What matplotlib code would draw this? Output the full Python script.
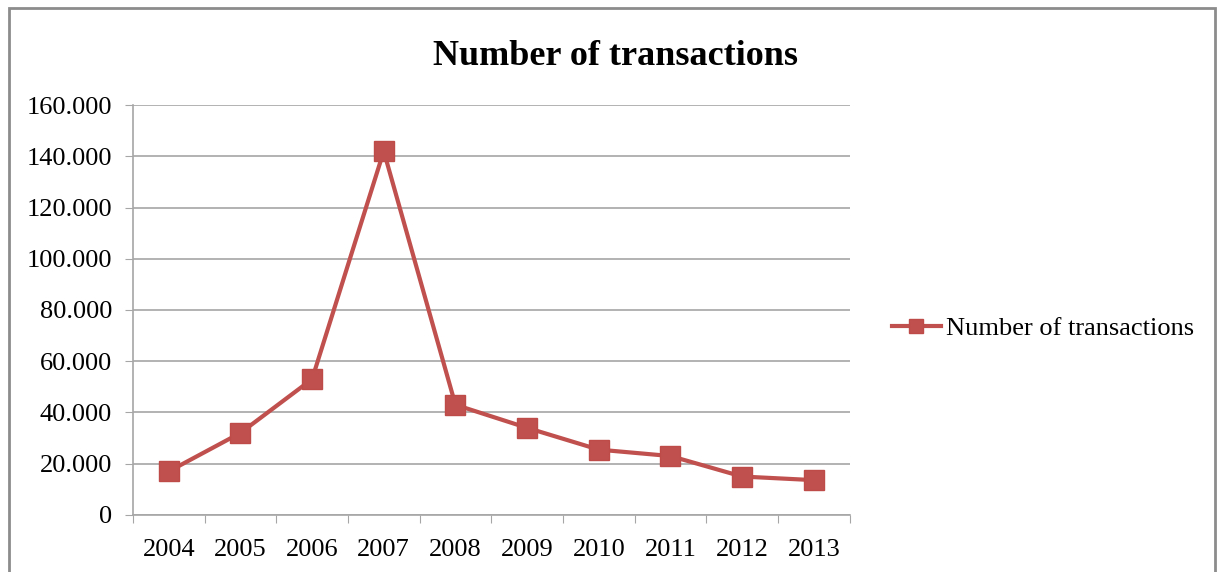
import matplotlib.pyplot as plt
from matplotlib.patches import Rectangle
from matplotlib.ticker import FuncFormatter, FixedLocator
import numpy as np

years = ['2004', '2005', '2006', '2007', '2008', '2009', '2010', '2011', '2012', '2013']
transactions = [17000, 32000, 53000, 142000, 43000, 34000, 25500, 23000, 15000, 13600]

plt.rcParams['font.family'] = ['Liberation Serif', 'DejaVu Serif']

fig = plt.figure(figsize=(12.19, 5.72), dpi=100)
ax = fig.add_axes([0.109, 0.0997, 0.588, 0.7167])

x = np.arange(len(years))
ax.plot(x, transactions, color='#C0504D', lw=3, marker='s', markersize=14,
        markeredgecolor='#BE4B48', label='Number of transactions')

ax.set_xlim(-0.5, len(years) - 0.5)
ax.set_ylim(0, 160000)
ax.set_yticks(np.arange(0, 160001, 20000))
ax.yaxis.set_major_formatter(FuncFormatter(lambda v, p: '0' if v == 0 else f'{int(v):,}'.replace(',', '.')))
ax.grid(axis='y', color='#A6A6A6', lw=1.2)
ax.set_axisbelow(True)

ax.xaxis.set_major_locator(FixedLocator(np.arange(-0.5, len(years), 1)))
ax.xaxis.set_minor_locator(FixedLocator(x))
ax.set_xticklabels([''] * (len(years) + 1))
ax.set_xticklabels(years, minor=True)
ax.tick_params(axis='x', which='major', length=6, color='#A6A6A6', direction='out')
ax.tick_params(axis='x', which='minor', length=0, pad=17, labelsize=19)
ax.tick_params(axis='y', length=6, color='#A6A6A6', labelsize=19, pad=9)

for s in ['top', 'right']:
    ax.spines[s].set_visible(False)
for s in ['left', 'bottom']:
    ax.spines[s].set_color('#A6A6A6')
    ax.spines[s].set_linewidth(1.2)

fig.text(0.505, 0.902, 'Number of transactions', ha='center', va='center',
         fontsize=26, fontweight='bold')

leg = ax.legend(loc='center left', bbox_to_anchor=(1.026, 0.455), frameon=False,
                fontsize=19, handlelength=1.85, handletextpad=0.2, markerscale=0.75)

fig.patches.append(Rectangle((0.007, -0.01), 0.99, 0.996, transform=fig.transFigure,
                             fill=False, edgecolor='#8C8C8C', lw=2))

fig.savefig('out.png', dpi=100)
